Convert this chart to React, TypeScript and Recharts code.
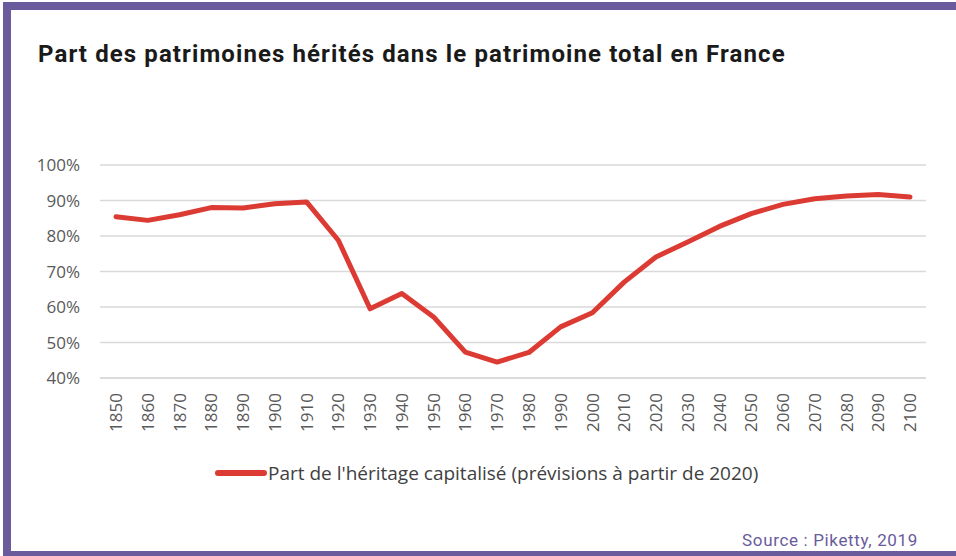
import { LineChart, Line, XAxis, YAxis, CartesianGrid } from 'recharts';

// ---------------------------------------------------------------------------
// Data
// ---------------------------------------------------------------------------

const YEARS = [
  '1850', '1860', '1870', '1880', '1890', '1900', '1910', '1920', '1930',
  '1940', '1950', '1960', '1970', '1980', '1990', '2000', '2010', '2020',
  '2030', '2040', '2050', '2060', '2070', '2080', '2090', '2100',
];

const SHARE = [
  85.4, 84.4, 86.0, 88.0, 87.9, 89.1, 89.6, 78.8, 59.5,
  63.8, 57.2, 47.3, 44.5, 47.2, 54.4, 58.4, 67.0, 74.1,
  78.3, 82.7, 86.3, 88.9, 90.5, 91.3, 91.7, 91.0,
];

const Y_TICKS = [40, 50, 60, 70, 80, 90, 100];

const TITLE = 'Part des patrimoines hérités dans le patrimoine total en France';
const SERIES_NAME = "Part de l'héritage capitalisé (prévisions à partir de 2020)";
const SOURCE = 'Source : Piketty, 2019';

const RED = '#dc3b33';
const PURPLE = '#6a5b9c';
const TICK_GREY = '#595959';

const chartData = YEARS.map((year, i) => ({ year, share: SHARE[i] }));

// ---------------------------------------------------------------------------
// Ticks / legend
// ---------------------------------------------------------------------------

function YearTick({ x, y, payload }: any) {
  return (
    <text
      x={x}
      y={y + 15}
      dy="0.36em"
      textAnchor="end"
      transform={`rotate(-90, ${x}, ${y + 15})`}
      fill={TICK_GREY}
      fontSize={17}
      fontFamily="'Open Sans', sans-serif"
    >
      {payload.value}
    </text>
  );
}

function LegendBox() {
  return (
    <div
      style={{
        position: 'absolute',
        left: 215,
        top: 460,
        display: 'flex',
        alignItems: 'center',
        whiteSpace: 'nowrap',
      }}
    >
      <span
        style={{
          display: 'inline-block',
          width: 52,
          height: 6,
          borderRadius: 3,
          background: RED,
          marginRight: 1,
        }}
      />
      <span style={{ fontSize: 19, color: '#404040', fontFamily: "'Open Sans', sans-serif" }}>
        {SERIES_NAME}
      </span>
    </div>
  );
}

// ---------------------------------------------------------------------------
// App
// ---------------------------------------------------------------------------

export default function App() {
  return (
    <div
      style={{
        position: 'absolute',
        left: 0,
        top: 0,
        width: 956,
        height: 556,
        background: '#fff',
        overflow: 'hidden',
      }}
    >
      {/* cadre violet */}
      <div
        style={{
          position: 'absolute',
          left: 3,
          top: 2,
          width: 961,
          height: 557,
          boxSizing: 'border-box',
          border: `8px solid ${PURPLE}`,
        }}
      />

      <div
        style={{
          position: 'absolute',
          left: 38,
          top: 40,
          fontFamily: 'Roboto, sans-serif',
          fontWeight: 700,
          fontSize: 24,
          letterSpacing: 1.1,
          color: '#1a1a1a',
          whiteSpace: 'nowrap',
        }}
      >
        {TITLE}
      </div>

      <LineChart
        width={956}
        height={556}
        data={chartData}
        margin={{ top: 165, right: 30, left: 0, bottom: 118 }}
        style={{ position: 'absolute', left: 0, top: 0 }}
      >
        <CartesianGrid vertical={false} stroke="#d9d9d9" strokeWidth={1.5} />
        <XAxis
          dataKey="year"
          interval={0}
          height={60}
          padding={{ left: 16, right: 16 }}
          axisLine={{ stroke: '#d9d9d9', strokeWidth: 1.5 }}
          tickLine={false}
          tickSize={0}
          tickMargin={0}
          tick={<YearTick />}
        />
        <YAxis
          width={100}
          domain={[40, 100]}
          ticks={Y_TICKS}
          axisLine={false}
          tickLine={false}
          tickSize={0}
          tickMargin={20}
          tickFormatter={(v: number) => `${v}%`}
          tick={{ fontSize: 17, fill: TICK_GREY, fontFamily: "'Open Sans', sans-serif" }}
        />
        <Line
          type="linear"
          dataKey="share"
          name={SERIES_NAME}
          stroke={RED}
          strokeWidth={5}
          strokeLinejoin="round"
          strokeLinecap="round"
          dot={false}
          activeDot={false}
          isAnimationActive={false}
        />
      </LineChart>

      <LegendBox />

      <div
        style={{
          position: 'absolute',
          right: 38,
          top: 530,
          fontFamily: 'Roboto, sans-serif',
          fontSize: 17,
          letterSpacing: 0.65,
          color: PURPLE,
          whiteSpace: 'nowrap',
        }}
      >
        {SOURCE}
      </div>
    </div>
  );
}
